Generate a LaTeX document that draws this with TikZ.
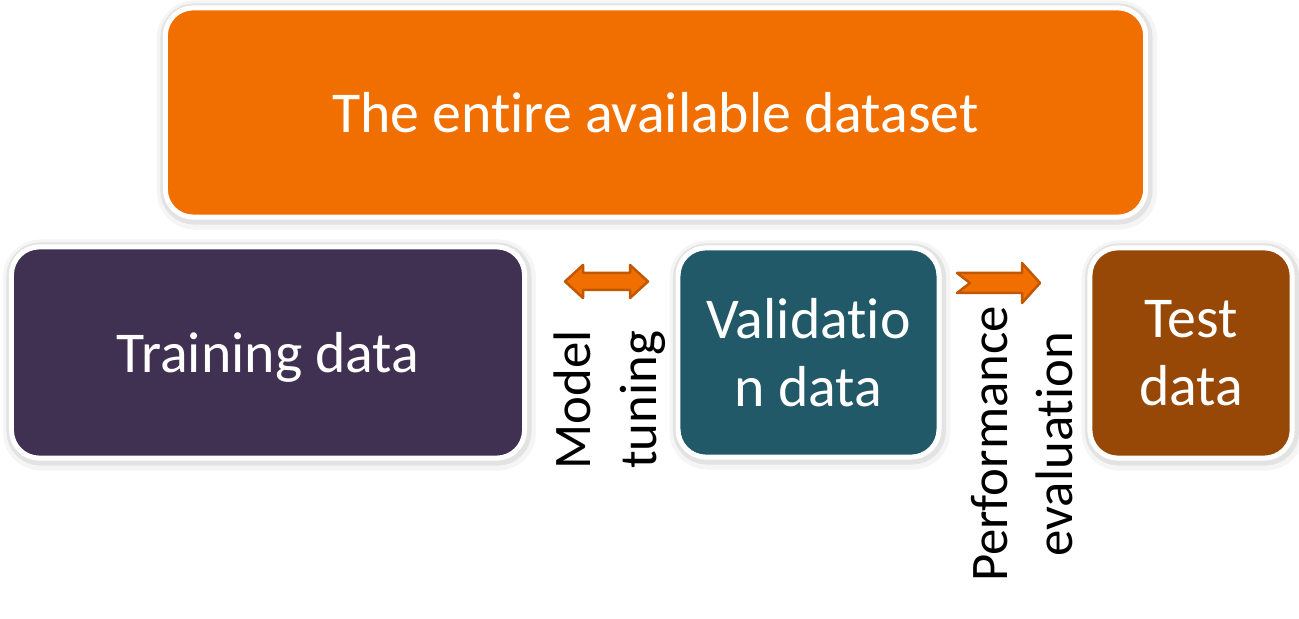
\documentclass[tikz,border=0pt]{standalone}
\usepackage{fontspec}
\setmainfont{Carlito}[Ligatures={NoCommon}]
\definecolor{setorange}{HTML}{F06F00}
\definecolor{arrowedge}{HTML}{C25700}
\definecolor{trainpurple}{HTML}{403152}
\definecolor{validteal}{HTML}{215968}
\definecolor{testbrown}{HTML}{974806}
\begin{document}
\begin{tikzpicture}[x=1bp,y=1bp]
        \tikzset{block/.style={rounded corners=28,draw=white,line width=5,text=white,align=center,inner sep=0,
            font=\fontsize{58}{68}\selectfont,
            preaction={draw=black,draw opacity=0.04,line width=20,transform canvas={xshift=1.5,yshift=-2.5}},
            preaction={draw=black,draw opacity=0.07,line width=12,transform canvas={xshift=1,yshift=-1.5}}}};
        \tikzset{sidelbl/.style={rotate=90,align=center,inner sep=0,font=\fontsize{53}{66}\selectfont}};
        \tikzset{blockarrow/.style={fill=setorange,draw=arrowedge,line width=2.5,line join=round}};
        \useasboundingbox[fill=white] (0,0) rectangle (1299,619);
        \node[block,fill=setorange,minimum width=984,minimum height=210,text depth=-4] (whole) at (655.5,506.5) {The entire available dataset};
        \node[block,fill=trainpurple,minimum width=515,minimum height=212,text depth=0] (train) at (268,266.5) {Training data};
        \node[block,fill=validteal,minimum width=262,minimum height=210] (valid) at (808.5,266.5) {Validatio\\n data};
        \node[block,fill=testbrown,minimum width=203,minimum height=211] (test) at (1191,266) {Test\\data};
        \node[sidelbl] (tunelbl) at (610,219) {Model\\tuning};
        \node[sidelbl] (perflbl) at (1022,175) {Performance\\evaluation};
        \draw[blockarrow] (565,337.5) -- (583,354) -- (583,346) -- (630,346) -- (630,354) -- (648,337.5)
            -- (630,321) -- (630,329) -- (583,329) -- (583,321) -- cycle;
        \draw[blockarrow] (957,346) -- (1022,346) -- (1022,356) -- (1040,336) -- (1022,316) -- (1022,326)
            -- (957,326) -- (970,336) -- cycle;
    \end{tikzpicture}
\end{document}
